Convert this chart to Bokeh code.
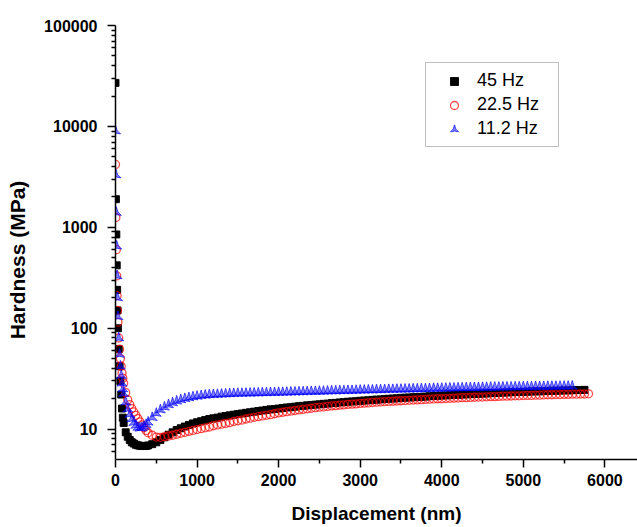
from bokeh.plotting import figure
from bokeh.models import (Range1d, FixedTicker, NumeralTickFormatter, Legend,
                          LegendItem, ColumnDataSource)
from bokeh.embed import file_html
from bokeh.resources import INLINE

# ---------------- data ----------------
displacement_nm = [
    0, 5, 10, 15, 20, 25, 30, 40, 50, 60,
    70, 80, 90, 100, 125, 150, 175, 200, 225, 250,
    275, 300, 325, 350, 375, 400, 450, 500, 550, 600,
    650, 700, 750, 800, 850, 900, 950, 1000, 1050, 1100,
    1150, 1200, 1250, 1300, 1350, 1400, 1450, 1500, 1550, 1600,
    1650, 1700, 1750, 1800, 1850, 1900, 1950, 2000, 2050, 2100,
    2150, 2200, 2250, 2300, 2350, 2400, 2450, 2500, 2550, 2600,
    2650, 2700, 2750, 2800, 2850, 2900, 2950, 3000, 3050, 3100,
    3150, 3200, 3250, 3300, 3350, 3400, 3450, 3500, 3550, 3600,
    3650, 3700, 3750, 3800, 3850, 3900, 3950, 4000, 4050, 4100,
    4150, 4200, 4250, 4300, 4350, 4400, 4450, 4500, 4550, 4600,
    4650, 4700, 4750, 4800, 4850, 4900, 4950, 5000, 5050, 5100,
    5150, 5200, 5250, 5300, 5350, 5400, 5450, 5500, 5550, 5600,
    5650, 5700, 5750, 5800,
]

hardness_45hz = [
    27000, 1900, 850, 420, 240, 150, 100, 62, 42, 30,
    22, 16, 13, 11.5, 9.3, 8.4, 7.8, 7.4, 7.2, 7.0,
    6.9, 6.85, 6.8, 6.8, 6.8, 6.9, 7.1, 7.4, 7.8, 8.3,
    8.8, 9.3, 9.8, 10.2, 10.6, 11.0, 11.4, 11.7, 12.0, 12.3,
    12.6, 12.8, 13.0, 13.3, 13.5, 13.7, 13.9, 14.1, 14.3, 14.5,
    14.7, 14.9, 15.1, 15.3, 15.5, 15.7, 15.8, 16.0, 16.2, 16.4,
    16.5, 16.7, 16.9, 17.0, 17.2, 17.3, 17.5, 17.6, 17.8, 17.9,
    18.1, 18.2, 18.4, 18.5, 18.7, 18.8, 18.9, 19.1, 19.2, 19.3,
    19.5, 19.6, 19.7, 19.9, 20.0, 20.1, 20.2, 20.4, 20.5, 20.6,
    20.7, 20.8, 20.9, 21.0, 21.2, 21.3, 21.4, 21.5, 21.6, 21.7,
    21.8, 21.9, 22.0, 22.1, 22.2, 22.3, 22.4, 22.5, 22.6, 22.7,
    22.8, 22.9, 23.0, 23.1, 23.2, 23.3, 23.3, 23.4, 23.5, 23.6,
    23.7, 23.7, 23.8, 23.9, 24.0, 24.0, 24.1, 24.2, 24.2, 24.3,
    24.4, 24.4, 24.5,
]

hardness_22_5hz = [
    4200, 1250, 600, 330, 210, 150, 115, 80, 62, 50,
    42, 36, 32, 28.5, 23, 19.5, 17.5, 16.0, 14.8, 13.7,
    12.7, 11.8, 11.0, 10.3, 9.7, 9.2, 8.7, 8.35, 8.3, 8.4,
    8.55, 8.7, 8.9, 9.1, 9.3, 9.5, 9.7, 9.9, 10.1, 10.3,
    10.5, 10.8, 11.0, 11.2, 11.4, 11.6, 11.9, 12.1, 12.3, 12.6,
    12.85, 13.1, 13.3, 13.5, 13.7, 13.9, 14.2, 14.5, 14.7, 14.9,
    15.1, 15.3, 15.5, 15.7, 15.9, 16.1, 16.3, 16.5, 16.6, 16.8,
    17.0, 17.1, 17.3, 17.4, 17.6, 17.7, 17.8, 18.0, 18.1, 18.2,
    18.4, 18.5, 18.6, 18.7, 18.8, 18.9, 19.0, 19.1, 19.2, 19.3,
    19.4, 19.5, 19.6, 19.7, 19.8, 19.9, 20.0, 20.0, 20.1, 20.2,
    20.3, 20.4, 20.5, 20.5, 20.6, 20.7, 20.8, 20.8, 20.9, 21.0,
    21.0, 21.1, 21.2, 21.2, 21.3, 21.4, 21.4, 21.5, 21.6, 21.6,
    21.7, 21.7, 21.8, 21.9, 21.9, 22.0, 22.0, 22.1, 22.1, 22.2,
    22.2, 22.3, 22.3, 22.4,
]

hardness_11_2hz = [
    9000, 3300, 1400, 650, 330, 200, 130, 80, 55, 42,
    34, 28.5, 25, 22.5, 18.5, 15.8, 14.0, 12.6, 11.6, 10.9,
    10.4, 10.2, 10.3, 10.6, 11.1, 11.7, 13.0, 14.3, 15.5, 16.5,
    17.4, 18.2, 18.9, 19.5, 20.0, 20.4, 20.8, 21.1, 21.4, 21.6,
    21.8, 21.9, 22.0, 22.1, 22.2, 22.3, 22.4, 22.5, 22.5, 22.6,
    22.6, 22.7, 22.7, 22.8, 22.8, 22.9, 22.9, 23.0, 23.0, 23.1,
    23.2, 23.2, 23.3, 23.3, 23.4, 23.5, 23.5, 23.6, 23.6, 23.7,
    23.8, 23.8, 23.9, 23.9, 24.0, 24.0, 24.1, 24.2, 24.2, 24.3,
    24.3, 24.4, 24.4, 24.5, 24.6, 24.6, 24.7, 24.7, 24.8, 24.8,
    24.9, 24.9, 25.0, 25.0, 25.1, 25.2, 25.2, 25.3, 25.3, 25.4,
    25.4, 25.5, 25.5, 25.6, 25.6, 25.7, 25.7, 25.8, 25.8, 25.9,
    25.9, 25.9, 26.0, 26.0, 26.0, 26.1, 26.1, 26.2, 26.2, 26.2,
    26.3, 26.3, 26.3, 26.4, 26.4, 26.4, 26.5, 26.5, 26.5, 26.6,
]

series_labels = ["45 Hz", "22.5 Hz", "11.2 Hz"]
x_title = "Displacement (nm)"
y_title = "Hardness (MPa)"
x_major_ticks = [0, 1000, 2000, 3000, 4000, 5000, 6000]
x_minor_ticks = [500, 1500, 2500, 3500, 4500, 5500]
y_major_ticks = [10, 100, 1000, 10000, 100000]
y_minor_ticks = [6, 7, 8, 9,
                 20, 30, 40, 50, 60, 70, 80, 90,
                 200, 300, 400, 500, 600, 700, 800, 900,
                 2000, 3000, 4000, 5000, 6000, 7000, 8000, 9000,
                 20000, 30000, 40000, 50000, 60000, 70000, 80000, 90000]

# ---------------- figure ----------------
FONT = "Liberation Sans"

p = figure(width=637, height=527,
           x_range=Range1d(0, 6400), y_range=Range1d(5, 100000),
           y_axis_type="log",
           output_backend="svg", toolbar_location=None,
           min_border_left=115, min_border_top=25,
           min_border_bottom=68, min_border_right=0)

p.outline_line_color = None
p.xgrid.visible = False
p.ygrid.visible = False
p.background_fill_color = "white"
p.border_fill_color = "white"

src45 = ColumnDataSource(dict(x=displacement_nm[:len(hardness_45hz)], y=hardness_45hz))
src22 = ColumnDataSource(dict(x=displacement_nm[:len(hardness_22_5hz)], y=hardness_22_5hz))
src11 = ColumnDataSource(dict(x=displacement_nm[:len(hardness_11_2hz)], y=hardness_11_2hz))

r45 = p.scatter("x", "y", source=src45, marker="square", size=7,
                fill_color="black", line_color="black", line_alpha=0.9)
r22 = p.scatter("x", "y", source=src22, marker="circle", size=8,
                fill_color=None, line_color="#ff0000", line_alpha=0.7, line_width=1.3)
r11 = p.scatter("x", "y", source=src11, marker="triangle_pin", size=10,
                fill_color="#1a1aff", fill_alpha=0.55,
                line_color="#0000ff", line_alpha=0.7, line_width=1)

# axes
for ax in (p.xaxis[0], p.yaxis[0]):
    ax.axis_line_width = 1.5
    ax.axis_line_color = "black"
    ax.major_tick_in = 0
    ax.major_tick_out = 8
    ax.minor_tick_in = 0
    ax.minor_tick_out = 4
    ax.major_tick_line_width = 1.5
    ax.minor_tick_line_width = 1.5
    ax.major_tick_line_color = "black"
    ax.minor_tick_line_color = "black"
    ax.major_label_text_font = FONT
    ax.major_label_text_font_style = "bold"
    ax.major_label_text_font_size = "16px"
    ax.major_label_text_color = "black"
    ax.axis_label_text_font = FONT
    ax.axis_label_text_font_style = "bold"
    ax.axis_label_text_color = "black"

p.xaxis.ticker = FixedTicker(ticks=x_major_ticks, minor_ticks=x_minor_ticks)
p.yaxis.ticker = FixedTicker(ticks=y_major_ticks, minor_ticks=y_minor_ticks)
p.yaxis.formatter = NumeralTickFormatter(format="0")
p.xaxis.formatter = NumeralTickFormatter(format="0")
p.xaxis.major_label_standoff = 6
p.yaxis.major_label_standoff = 10

p.xaxis.axis_label = x_title
p.xaxis.axis_label_text_font_size = "19px"
p.xaxis.axis_label_standoff = 14

# trailing no-break spaces move the rotated title a little down, as in the reference
p.yaxis.axis_label = y_title + "\u00a0" * 6
p.yaxis.axis_label_text_font_size = "21px"
p.yaxis.axis_label_standoff = 12

legend = Legend(items=[LegendItem(label=series_labels[0], renderers=[r45]),
                       LegendItem(label=series_labels[1], renderers=[r22]),
                       LegendItem(label=series_labels[2], renderers=[r11])],
                location=(310, 312))
legend.border_line_color = "#808080"
legend.border_line_width = 1
legend.background_fill_color = "white"
legend.background_fill_alpha = 1
legend.padding = 7
legend.spacing = 3
legend.margin = 0
legend.label_height = 20
legend.glyph_height = 20
legend.glyph_width = 42
legend.label_standoff = 2
legend.label_width = 74
legend.label_text_font = FONT
legend.label_text_font_size = "18px"
legend.label_text_color = "black"
p.add_layout(legend)

html = file_html(p, INLINE)
html = html.replace("<head>", "<head><style>html,body{overflow:hidden;}</style>", 1)
open("out.html", "w").write(html)
